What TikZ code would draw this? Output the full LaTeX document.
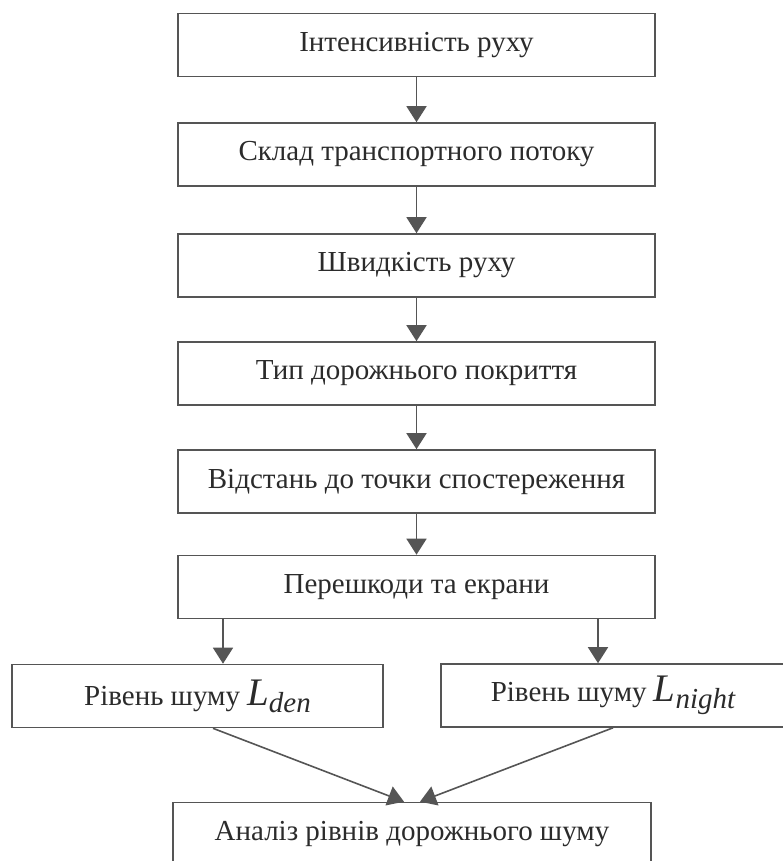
\documentclass[tikz,border=0pt]{standalone}
\usepackage{fontspec}
\setmainfont{Liberation Serif}
\usetikzlibrary{arrows.meta}
\definecolor{linegray}{HTML}{555555}
\definecolor{textgray}{HTML}{2B2B2B}
\newcommand{\Lsub}[1]{{\fontsize{39}{40}\selectfont\itshape L}\raisebox{-7pt}{\itshape #1}}
\begin{document}
\begin{tikzpicture}
[x=1pt,y=-1pt,
 box/.style={draw=linegray,line width=1.6pt,minimum height=63pt,inner sep=0pt,
  text=textgray,font=\fontsize{29}{31}\selectfont},
 arr/.style={draw=linegray,line width=1.6pt,-{Triangle[length=16pt,width=20pt]}}]
\useasboundingbox (0,0) rectangle (783,861);
\node[box,minimum width=477pt] (intens) at (416.5,45) {Інтенсивність руху};
\node[box,minimum width=477pt] (sklad) at (416.5,154.5) {Склад транспортного потоку};
\node[box,minimum width=477pt] (shvyd) at (416.5,265.5) {Швидкість руху};
\node[box,minimum width=477pt] (pokr) at (416.5,373.5) {Тип дорожнього покриття};
\node[box,minimum width=477pt] (vidst) at (416.5,481.5) {Відстань до точки спостереження};
\node[box,minimum width=477pt] (pereshk) at (416.5,587) {Перешкоди та екрани};
\node[box,minimum width=371pt] (lden) at (197.5,696) {Рівень шуму \Lsub{den}};
\node[box,minimum width=344pt] (lnight) at (613,695.5) {Рівень шуму \Lsub{night}};
\node[box,minimum width=478pt] (analiz) at (412,834) {Аналіз рівнів дорожнього шуму};
\draw[arr] (intens) -- (sklad);
\draw[arr] (sklad) -- (shvyd);
\draw[arr] (shvyd) -- (pokr);
\draw[arr] (pokr) -- (vidst);
\draw[arr] (vidst) -- (pereshk);
\draw[arr] ([xshift=25.5pt]lden.north |- pereshk.south) -- ([xshift=25.5pt]lden.north);
\draw[arr] ([xshift=-15pt]lnight.north |- pereshk.south) -- ([xshift=-15pt]lnight.north);
\draw[arr] ([xshift=15.5pt]lden.south) -- ([xshift=-8pt]analiz.north);
\draw[arr] (lnight.south) -- ([xshift=8pt]analiz.north);
\end{tikzpicture}
\end{document}
